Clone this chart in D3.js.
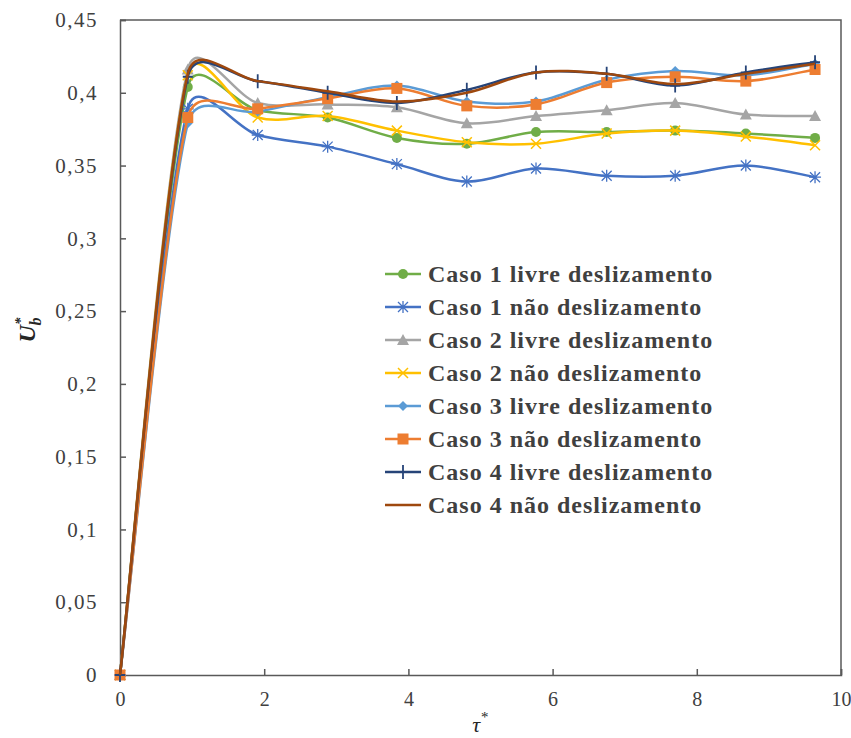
<!DOCTYPE html>
<html>
<head>
<meta charset="utf-8">
<script src="https://cdn.jsdelivr.net/npm/d3@7"></script>
<style>
  body { margin: 0; background: #fff; }
  text { font-family: "Liberation Serif", "Tinos", "DejaVu Serif", serif; }
</style>
</head>
<body>
<svg id="chart" width="851" height="738"></svg>
<script>
// tau* sample points (same for every series)
const tau = [0, 0.94, 1.91, 2.88, 3.84, 4.81, 5.77, 6.75, 7.70, 8.68, 9.64]

const caso1Livre = [0, 0.404, 0.388, 0.383, 0.369, 0.365, 0.373, 0.373, 0.374, 0.372, 0.369]
const caso1Nao   = [0, 0.389, 0.371, 0.363, 0.351, 0.339, 0.348, 0.343, 0.343, 0.350, 0.342]
const caso2Livre = [0, 0.416, 0.393, 0.392, 0.390, 0.379, 0.384, 0.388, 0.393, 0.385, 0.384]
const caso2Nao   = [0, 0.412, 0.383, 0.384, 0.374, 0.366, 0.365, 0.372, 0.374, 0.370, 0.364]
const caso3Livre = [0, 0.379, 0.387, 0.397, 0.405, 0.394, 0.394, 0.409, 0.415, 0.412, 0.420]
const caso3Nao   = [0, 0.383, 0.389, 0.396, 0.403, 0.391, 0.392, 0.407, 0.411, 0.408, 0.416]
const caso4Livre = [0, 0.411, 0.408, 0.400, 0.393, 0.402, 0.414, 0.413, 0.405, 0.414, 0.421]
const caso4Nao   = [0, 0.413, 0.408, 0.401, 0.394, 0.400, 0.414, 0.413, 0.406, 0.413, 0.420]

const seriesNames = ["Caso 1 livre deslizamento", "Caso 1 não deslizamento",
  "Caso 2 livre deslizamento", "Caso 2 não deslizamento",
  "Caso 3 livre deslizamento", "Caso 3 não deslizamento",
  "Caso 4 livre deslizamento", "Caso 4 não deslizamento"]
const seriesValues = [caso1Livre, caso1Nao, caso2Livre, caso2Nao, caso3Livre, caso3Nao, caso4Livre, caso4Nao]
const seriesColors = ["#70AD47", "#4472C4", "#A5A5A5", "#FFC000", "#5B9BD5", "#ED7D31", "#264478", "#9E480E"]
const seriesMarkers = ["circle", "asterisk", "triangle", "x", "diamond", "square", "plus", "none"]

const xTicks = [0, 2, 4, 6, 8, 10]
const yTicks = [0, 0.05, 0.1, 0.15, 0.2, 0.25, 0.3, 0.35, 0.4, 0.45]

const svg = d3.select("#chart")
const mLeft = 120, mRight = 841, mTop = 20, mBottom = 675

const x = d3.scaleLinear().domain([0, 10]).range([mLeft, mRight])
const y = d3.scaleLinear().domain([0, 0.45]).range([mBottom, mTop])

const fmt = d => d3.format("")(d).replace(".", ",")

// frame (top + right)
svg.append("path")
  .attr("d", `M${mLeft},${mTop}H${mRight}V${mBottom}`)
  .attr("fill", "none").attr("stroke", "#595959").attr("stroke-width", 1.5)

const xAxis = svg.append("g")
  .attr("transform", `translate(0,${mBottom})`)
  .call(d3.axisBottom(x).tickValues(xTicks).tickSize(-6).tickPadding(17).tickFormat(fmt))
const yAxis = svg.append("g")
  .attr("transform", `translate(${mLeft},0)`)
  .call(d3.axisLeft(y).tickValues(yTicks).tickSize(-6).tickPadding(22).tickFormat(fmt))

;[xAxis, yAxis].forEach(g => {
  g.attr("font-family", null)
  g.select(".domain").attr("stroke", "#595959").attr("stroke-width", 1.5)
  g.selectAll(".tick line").attr("stroke", "#595959").attr("stroke-width", 1.5)
  g.selectAll(".tick text").attr("fill", "#404040").style("font-size", "21px")
})
xAxis.selectAll(".tick text").attr("dy", "0.71em").style("font-size", "20px")
yAxis.selectAll(".tick text").attr("dy", "0.32em").style("letter-spacing", "1.5px")

// axis titles
svg.append("text").attr("x", 480).attr("y", 732).attr("text-anchor", "middle")
  .style("font-size", "22px").style("font-style", "italic").attr("fill", "#262626")
  .text("τ").append("tspan").attr("dy", -10).style("font-size", "15px").text("*")

const yt = svg.append("text").attr("transform", "translate(35,330) rotate(-90)")
  .attr("text-anchor", "middle").style("font-size", "24px")
  .style("font-style", "italic").style("font-weight", "bold").attr("fill", "#262626")
yt.append("tspan").text("U")
yt.append("tspan").attr("dy", -10).style("font-size", "15px").text("*")
yt.append("tspan").attr("dy", 16).attr("dx", -8).style("font-size", "16px").text("b")

// spreadsheet-style smoothed line: bezier with 1/6 tangents, capped at half the segment
function smoothPath(pts) {
  const p = d3.path()
  const dist = (a, b) => Math.hypot(b[0] - a[0], b[1] - a[1])
  p.moveTo(pts[0][0], pts[0][1])
  for (let i = 0; i < pts.length - 1; i++) {
    const p0 = pts[Math.max(i - 1, 0)], p1 = pts[i], p2 = pts[i + 1], p3 = pts[Math.min(i + 2, pts.length - 1)]
    const d12 = dist(p1, p2), d02 = dist(p0, p2), d13 = dist(p1, p3)
    const f1 = d02 / 6 < d12 / 2 ? 1 / 6 : d12 / (2 * d02)
    const f2 = d13 / 6 < d12 / 2 ? 1 / 6 : d12 / (2 * d13)
    p.bezierCurveTo(
      p1[0] + f1 * (p2[0] - p0[0]), p1[1] + f1 * (p2[1] - p0[1]),
      p2[0] - f2 * (p3[0] - p1[0]), p2[1] - f2 * (p3[1] - p1[1]),
      p2[0], p2[1])
  }
  return p.toString()
}

function drawMarker(g, type, color, cx, cy) {
  const s = 5
  if (type === "circle") {
    g.append("circle").attr("cx", cx).attr("cy", cy).attr("r", s).attr("fill", color)
  } else if (type === "square") {
    g.append("rect").attr("x", cx - s - 0.5).attr("y", cy - s - 0.5)
      .attr("width", 2 * s + 1).attr("height", 2 * s + 1).attr("fill", color)
  } else if (type === "triangle") {
    g.append("path").attr("d", `M${cx},${cy - s - 1}L${cx + s + 1},${cy + s}L${cx - s - 1},${cy + s}Z`).attr("fill", color)
  } else if (type === "diamond") {
    g.append("path").attr("d", `M${cx},${cy - s}L${cx + s},${cy}L${cx},${cy + s}L${cx - s},${cy}Z`).attr("fill", color)
  } else if (type === "x") {
    g.append("path").attr("d", `M${cx - s},${cy - s}L${cx + s},${cy + s}M${cx - s},${cy + s}L${cx + s},${cy - s}`)
      .attr("stroke", color).attr("stroke-width", 1.5)
  } else if (type === "plus") {
    g.append("path").attr("d", `M${cx - s},${cy}H${cx + s}M${cx},${cy - s - 2}V${cy + s + 2}`)
      .attr("stroke", color).attr("stroke-width", 1.8)
  } else if (type === "asterisk") {
    g.append("path").attr("d", `M${cx - s - 1},${cy}H${cx + s + 1}M${cx - s},${cy - s}L${cx + s},${cy + s}M${cx - s},${cy + s}L${cx + s},${cy - s}M${cx},${cy - s - 1}V${cy + s + 1}`)
      .attr("stroke", color).attr("stroke-width", 1.3)
  }
}

seriesValues.forEach((vals, i) => {
  const pts = vals.map((v, j) => [x(tau[j]), y(v)])
  const g = svg.append("g")
  g.append("path").attr("d", smoothPath(pts)).attr("fill", "none")
    .attr("stroke", seriesColors[i]).attr("stroke-width", 2.5)
  pts.forEach(p => drawMarker(g, seriesMarkers[i], seriesColors[i], p[0], p[1]))
})

// legend
const legend = svg.append("g")
seriesNames.forEach((name, i) => {
  const ly = 274 + i * 33
  legend.append("line").attr("x1", 385).attr("x2", 421).attr("y1", ly).attr("y2", ly)
    .attr("stroke", seriesColors[i]).attr("stroke-width", 2.5)
  drawMarker(legend, seriesMarkers[i], seriesColors[i], 403, ly)
  legend.append("text").attr("x", 428).attr("y", ly).attr("dy", "0.35em")
    .style("font-size", "24px").style("font-weight", "bold").style("letter-spacing", "1px")
    .attr("fill", "#404040")
    .text(name)
})
</script>
</body>
</html>
